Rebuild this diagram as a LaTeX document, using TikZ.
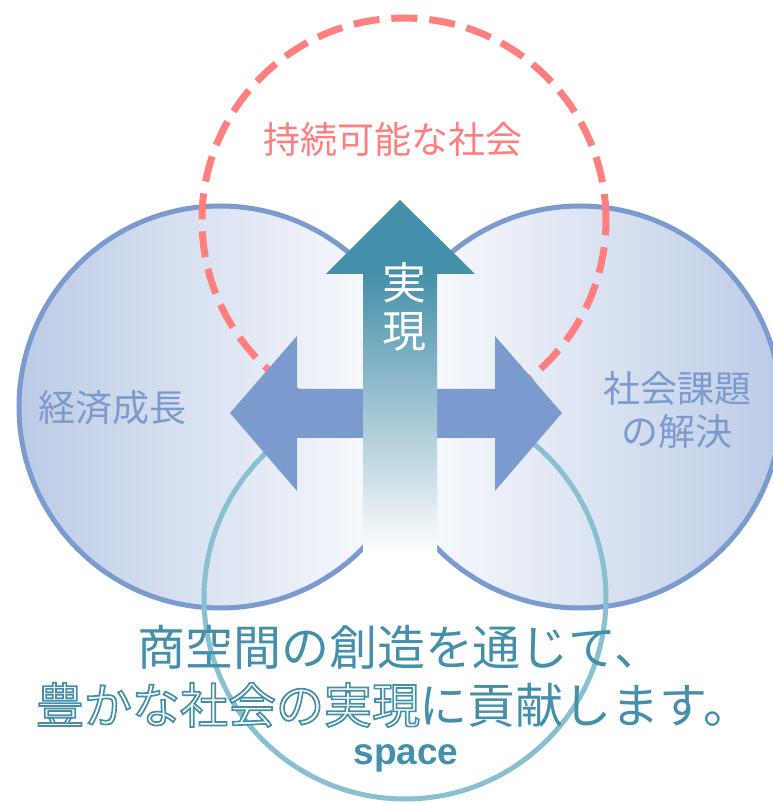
\documentclass[tikz,border=0pt]{standalone}
\usepackage{fontspec}
\setmainfont{Noto Sans CJK JP}
\newfontfamily\spacefont{Liberation Sans}
\definecolor{blueC}{HTML}{7B9BCF}
\definecolor{blueFill}{HTML}{BCCBE6}
\definecolor{redC}{HTML}{FF7F7F}
\definecolor{tealLine}{HTML}{88C0D2}
\definecolor{tealDark}{HTML}{448FA9}
\newcommand\hollowtext[1]{{\color{white}%
\special{pdf:literal direct 0.267 0.561 0.663 RG 1.7 w 2 Tr}#1%
\special{pdf:literal direct 0 Tr 0.4 w}}}
\begin{document}
\begin{tikzpicture}[x=1pt,y=1pt,
  txt/.style={inner sep=0pt, outer sep=0pt},
  bluering/.style={draw=blueC, line width=5pt},
  redring/.style={draw=redC, line width=7pt, dash pattern=on 26pt off 12pt},
  tealring/.style={draw=tealLine, line width=5pt},
  sidearrow/.style={fill=blueC, draw=none},
  sz37/.style={font=\fontsize{37}{40}\selectfont},
  sz48/.style={font=\fontsize{48}{52}\selectfont},
]
\useasboundingbox (0,0) rectangle (773,804);
\fill[white] (0,0) rectangle (773,804);
% circles
\path[bluering, left color=blueFill, right color=white] (220,397) circle (201);
\path[bluering, left color=white, right color=blueFill] (580,397) circle (201);
\draw[redring] (404,584) circle (202);
\draw[tealring] (405,206) circle (201);
% horizontal double arrow
\fill[sidearrow] (230,391) -- (297,468) -- (297,415) -- (495,415) -- (495,468)
  -- (562,391) -- (495,313) -- (495,366) -- (297,366) -- (297,313) -- cycle;
% up arrow
\shade[top color=tealDark, middle color=tealDark!42, bottom color=white]
  (363,249) rectangle (437,532);
\fill[tealDark] (400,604) -- (475,530) -- (326,530) -- cycle;
% texts
\node[txt, sz37, text=redC, anchor=west] (sus) at (263,665) {持続可能な社会};
\node[txt, sz37, text=blueC, anchor=west] (eco) at (38,396) {経済成長};
\node[txt, sz37, text=blueC, anchor=west] (soc1) at (603,416) {社会課題};
\node[txt, sz37, text=blueC, anchor=west] (soc2) at (621,373) {の解決};
\node[txt, font=\fontsize{44}{48}\selectfont, text=white] (ji) at (404,521) {実};
\node[txt, font=\fontsize{44}{48}\selectfont, text=white] (gen) at (404,472) {現};
\node[txt, sz48, text=tealDark, anchor=west] (line1) at (137,157) {商空間の創造を通じて、};
\node[txt, sz48, text=tealDark, anchor=west] (line2) at (36,99) {\hollowtext{豊かな社会の実現}に貢献します。};
\node[txt, font=\spacefont\bfseries\fontsize{37}{40}\selectfont, text=tealDark] (space) at (406,46) {space};
\end{tikzpicture}
\end{document}
